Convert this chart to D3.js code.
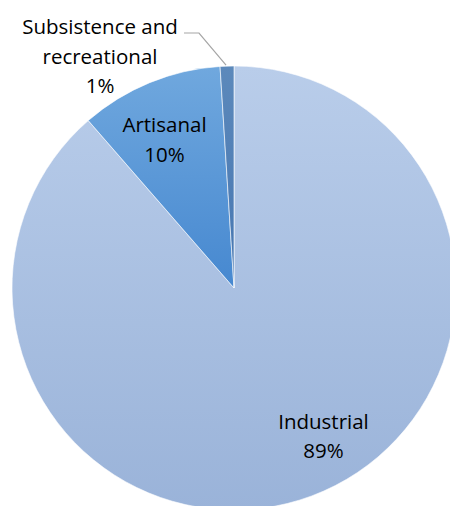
<!DOCTYPE html>
<html>
<head>
<meta charset="utf-8">
<script src="https://cdn.jsdelivr.net/npm/d3@7"></script>
<style>
  html, body { margin: 0; padding: 0; background: #ffffff; }
  svg { display: block; }
</style>
</head>
<body>
<svg id="chart" width="450" height="506"></svg>
<script>
// Catch shares by fishing sector (percent)
const categories = ["Industrial", "Artisanal", "Subsistence and recreational"];
const shares = [88.6, 10.4, 1.0];
const labelLines = [["Industrial"], ["Artisanal"], ["Subsistence and", "recreational"]];
const gradTop = ["#b9cdea", "#70a8de", "#5c89bb"];
const gradBottom = ["#9ab3d9", "#4688d0", "#4676b1"];

const W = 450, H = 506;
const cx = 234, cy = 288, R = 222;
const fontFamily = "'Open Sans', Lato, sans-serif";
const fontSize = 20.5;
const lineH = 29.5;

const svg = d3.select("#chart");
const defs = svg.append("defs");
categories.forEach((c, i) => {
  const g = defs.append("linearGradient")
    .attr("id", "grad" + i)
    .attr("x1", 0).attr("y1", 0).attr("x2", 0).attr("y2", 1);
  g.append("stop").attr("offset", "0%").attr("stop-color", gradTop[i]);
  g.append("stop").attr("offset", "100%").attr("stop-color", gradBottom[i]);
});

const data = categories.map((c, i) => ({ name: c, value: shares[i], idx: i }));
const pie = d3.pie().sort(null).value(d => d.value);
const arcs = pie(data);
const arc = d3.arc().innerRadius(0).outerRadius(R);

const g = svg.append("g").attr("transform", `translate(${cx},${cy})`);
g.selectAll("path.slice")
  .data(arcs)
  .join("path")
  .attr("class", "slice")
  .attr("d", arc)
  .attr("fill", d => `url(#grad${d.data.idx})`)
  .attr("stroke", "#ffffff")
  .attr("stroke-width", 0.6);

const pct = d3.format(".0f");

// Label anchor positions for each slice (first-line baseline)
const labelPos = [
  { x: 323.5, y: 428.5 },
  { x: 164.5, y: 132 },
  { x: 100, y: 34 }
];

arcs.forEach((a, i) => {
  const lines = labelLines[i].concat([pct(a.data.value) + "%"]);
  const t = svg.append("text")
    .attr("text-anchor", "middle")
    .attr("font-family", fontFamily)
    .attr("font-size", fontSize)
    .style("font-variant-ligatures", "none")
    .attr("fill", "#000000");
  lines.forEach((ln, k) => {
    t.append("tspan")
      .attr("x", labelPos[i].x)
      .attr("y", labelPos[i].y + k * lineH)
      .text(ln);
  });
});

// Leader line for the small slice
const small = arcs[2];
const mid = (small.startAngle + small.endAngle) / 2;
const edge = [cx + Math.sin(mid) * R, cy - Math.cos(mid) * R];
svg.append("path")
  .attr("d", d3.line()([[184, 33], [199, 33], [edge[0] - 1, edge[1] - 1]]))
  .attr("fill", "none")
  .attr("stroke", "#a6a6a6")
  .attr("stroke-width", 1.2);
</script>
</body>
</html>
